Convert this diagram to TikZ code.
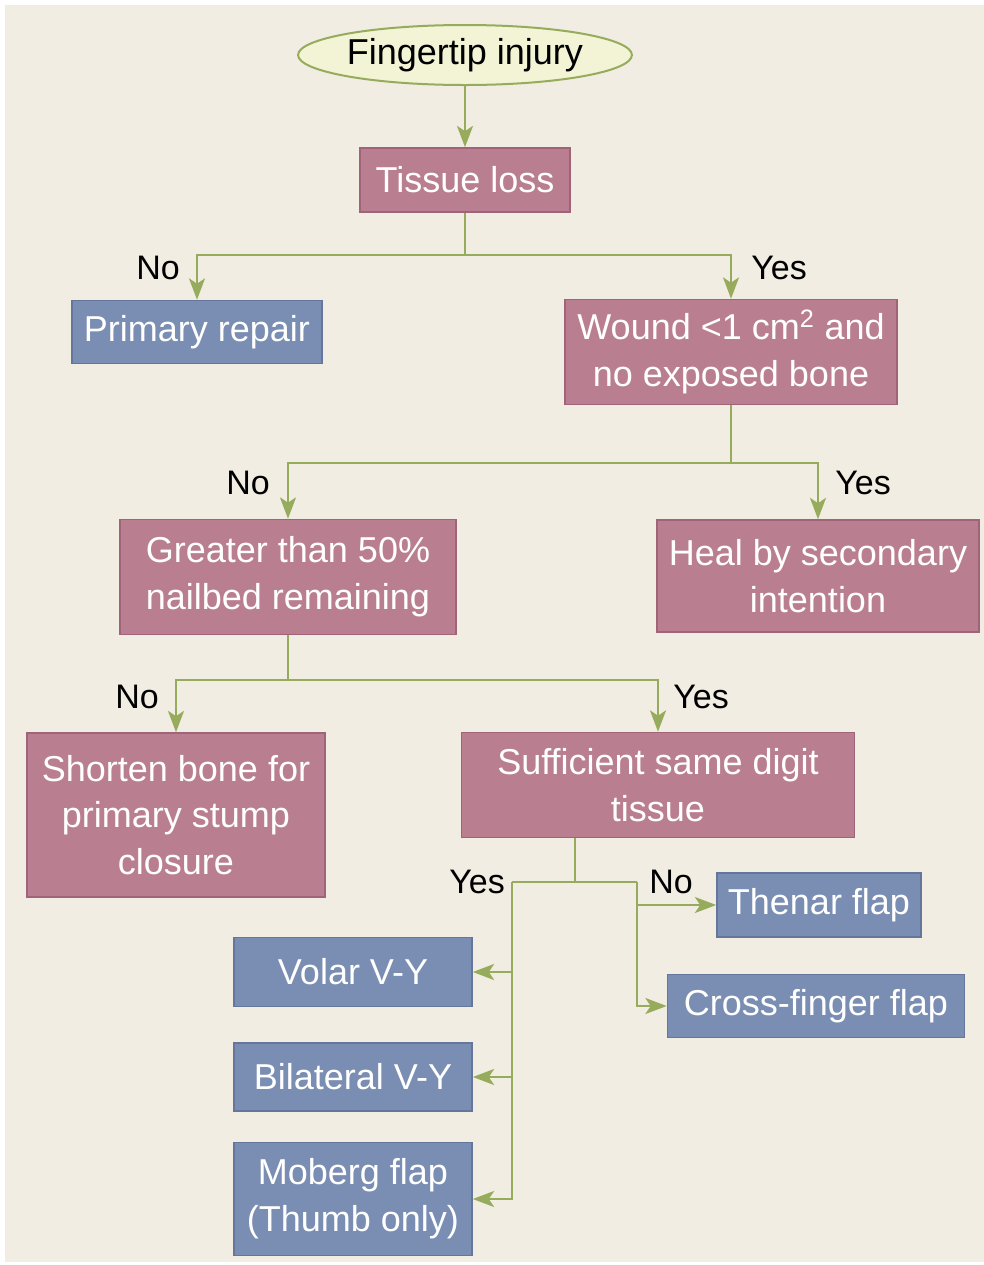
\documentclass[tikz,border=0pt]{standalone}
\usepackage{fontspec}
\setmainfont{Liberation Sans}
\usetikzlibrary{arrows.meta,shapes.geometric}
\definecolor{bg}{RGB}{241,237,226}
\definecolor{pinkf}{RGB}{185,127,145}
\definecolor{pinkd}{RGB}{160,100,120}
\definecolor{bluef}{RGB}{122,141,178}
\definecolor{blued}{RGB}{100,118,155}
\definecolor{lineg}{RGB}{150,172,92}
\definecolor{ellf}{RGB}{243,243,214}
\begin{document}
\begin{tikzpicture}[x=0.75pt,y=-0.75pt,
  box/.style={rectangle,draw,line width=1.2pt,text=white,align=center,inner sep=0pt,
     font=\fontsize{27}{35}\selectfont},
  pinkbox/.style={box,fill=pinkf,draw=pinkd},
  bluebox/.style={box,fill=bluef,draw=blued},
  lbl/.style={font=\fontsize{25.5}{28}\selectfont,text=black,inner sep=0pt},
  conn/.style={draw=lineg,line width=1.8pt},
  arr/.style={conn,-{Stealth[length=16pt,width=12pt,inset=4pt]}}]
\useasboundingbox (0,0) rectangle (984,1265);
\fill[white] (0,0) rectangle (984,1265);
\fill[bg] (5,5) rectangle (984,1262);

\node[ellipse,draw=lineg,fill=ellf,line width=1.5pt,minimum width=306pt*0.75,minimum height=60pt*0.75,inner sep=0pt,
  font=\fontsize{27}{35}\selectfont] (fi) at (465,55) {Fingertip injury};
\node[pinkbox,minimum width=210*0.75pt,minimum height=64*0.75pt] (tl) at (465,180) {Tissue loss};
\node[bluebox,minimum width=250*0.75pt,minimum height=63*0.75pt] (pr) at (197,332) {Primary repair};
\node[pinkbox,minimum width=332*0.75pt,minimum height=105*0.75pt] (wd) at (731,352) {Wound {<}1 cm\textsuperscript{2} and\\no exposed bone};
\node[pinkbox,minimum width=336*0.75pt,minimum height=115*0.75pt] (gt) at (288,577) {Greater than 50\%\\nailbed remaining};
\node[pinkbox,minimum width=322*0.75pt,minimum height=112*0.75pt] (hs) at (818,576) {Heal by secondary\\intention};
\node[pinkbox,minimum width=298*0.75pt,minimum height=164*0.75pt] (sb) at (176,815) {Shorten bone for\\primary stump\\closure};
\node[pinkbox,minimum width=393*0.75pt,minimum height=105*0.75pt] (sd) at (658,785) {Sufficient same digit\\tissue};
\node[bluebox,minimum width=204*0.75pt,minimum height=64*0.75pt] (th) at (819,905) {Thenar flap};
\node[bluebox,minimum width=297*0.75pt,minimum height=63*0.75pt] (cf) at (816,1006) {Cross-finger flap};
\node[bluebox,minimum width=238*0.75pt,minimum height=69*0.75pt] (vv) at (353,972) {Volar V-Y};
\node[bluebox,minimum width=238*0.75pt,minimum height=68*0.75pt] (bv) at (353,1077) {Bilateral V-Y};
\node[bluebox,minimum width=238*0.75pt,minimum height=113*0.75pt] (mf) at (353,1199) {Moberg flap\\(Thumb only)};

% connectors
\draw[arr] (fi) -- (tl);
\coordinate (j1) at (465,255);
\draw[conn] (tl) -- (j1);
\draw[arr] (j1) -| (pr);
\draw[arr] (j1) -| (wd);
\node[lbl] (n1) at (158,268) {No};
\node[lbl] (y1) at (779,268) {Yes};

\coordinate (j2) at (731,463);
\draw[conn] (wd) -- (j2);
\draw[arr] (j2) -| (gt);
\draw[arr] (j2) -| (hs);
\node[lbl] (n2) at (248,483) {No};
\node[lbl] (y2) at (863,483) {Yes};

\coordinate (j3) at (288,680);
\draw[conn] (gt) -- (j3);
\draw[arr] (j3) -| (sb);
\draw[arr] (j3) -| (sd);
\node[lbl] (n3) at (137,697) {No};
\node[lbl] (y3) at (701,697) {Yes};

\coordinate (j4) at (575,882);
\coordinate (yl) at (512,882);
\coordinate (nr) at (637,882);
\draw[conn] (sd.south -| j4) -- (j4);
\draw[conn] (yl) -- (nr);
\draw[arr] (yl) |- (vv);
\draw[arr] (yl) |- (bv);
\draw[arr] (yl) |- (mf);
\draw[arr] (nr) |- (th);
\draw[arr] (nr) |- (cf);
\node[lbl] (y4) at (477,882) {Yes};
\node[lbl] (n4) at (671,882) {No};
\end{tikzpicture}
\end{document}
